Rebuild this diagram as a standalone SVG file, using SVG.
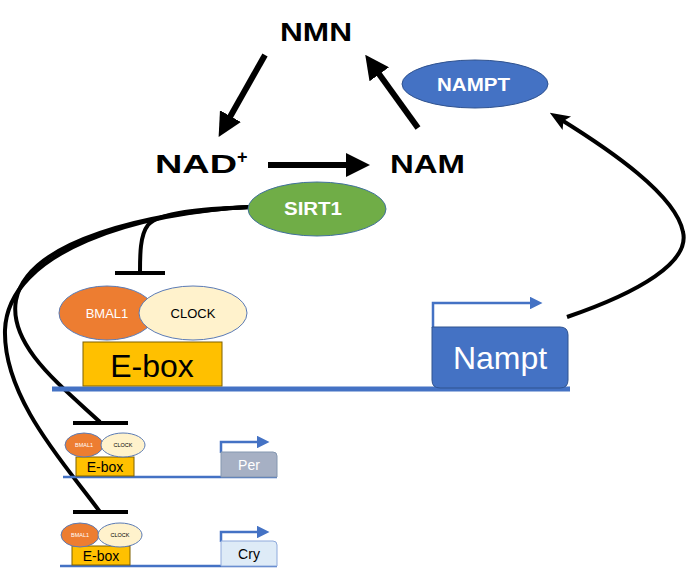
<svg xmlns="http://www.w3.org/2000/svg" width="686" height="572" viewBox="0 0 686 572">
<defs>
<style>
.lbl{font-family:"Liberation Sans",Arial,sans-serif;}
.big{font-size:26px;font-weight:bold;fill:#000;}
.thick{stroke:#000;stroke-width:6;fill:none;}
.curve{stroke:#000;stroke-width:4;fill:none;}
.dna{stroke:#4472C4;fill:none;}
.prom{stroke:#4472C4;stroke-width:2.5;fill:none;}
.bmal{fill:#ED7D31;stroke:#5B7BB5;stroke-width:1;}
.clock{fill:#FFF2CC;stroke:#5B7BB5;stroke-width:1;}
.ebox{fill:#FFC000;stroke:#7F6000;stroke-width:1;}
</style>
<marker id="bigHead" markerWidth="4" markerHeight="4" refX="1.5" refY="2" orient="auto" markerUnits="strokeWidth">
<path d="M0,0 L4,2 L0,4 z" fill="#000"/>
</marker>
<marker id="thinHead" markerWidth="5" markerHeight="5" refX="2" refY="2.5" orient="auto" markerUnits="strokeWidth">
<path d="M0,0.5 L5,2.5 L0,4.5 L1,2.5 z" fill="#000"/>
</marker>
<marker id="promHead" markerWidth="5" markerHeight="5" refX="2" refY="2.5" orient="auto" markerUnits="strokeWidth">
<path d="M0,0 L5,2.5 L0,5 z" fill="#4472C4"/>
</marker>
</defs>
<rect width="686" height="572" fill="#fff"/>

<g id="connectors">
<line class="thick" x1="265" y1="55" x2="226" y2="124" marker-end="url(#bigHead)"/>
<line class="thick" x1="268" y1="165" x2="355" y2="165" marker-end="url(#bigHead)"/>
<line class="thick" x1="418" y1="128" x2="374" y2="67" marker-end="url(#bigHead)"/>
<path class="curve" d="M567,317 C640,292 690,262 683,232 C676,195 610,150 560,119" marker-end="url(#thinHead)"/>
<path class="curve" d="M250,207 C200,209 160,212 148,225 C140,235 140,255 140,272"/>
<line class="curve" x1="115" y1="273" x2="165" y2="273"/>
<path class="curve" d="M250,207 C150,212 28,240 16,300 C8,345 60,385 100,422"/>
<line class="curve" x1="73" y1="423" x2="128" y2="423"/>
<path class="curve" d="M250,207 C140,212 8,250 5,330 C3,400 70,470 100,512"/>
<line class="curve" x1="73" y1="512" x2="128" y2="512"/>
</g>

<g id="NMN"><text class="lbl big" x="280" y="41" textLength="72" lengthAdjust="spacingAndGlyphs">NMN</text></g>
<g id="NAD"><text class="lbl big" x="155" y="173"><tspan textLength="82" lengthAdjust="spacingAndGlyphs">NAD</tspan><tspan font-size="18" dy="-10">+</tspan></text></g>
<g id="NAM"><text class="lbl big" x="390" y="173" textLength="75" lengthAdjust="spacingAndGlyphs">NAM</text></g>

<g id="NAMPT">
<ellipse cx="475" cy="84" rx="73" ry="24" fill="#4472C4" stroke="#2F528F" stroke-width="1"/>
<text class="lbl" x="437" y="91" font-size="19" font-weight="bold" fill="#fff" textLength="73" lengthAdjust="spacingAndGlyphs">NAMPT</text>
</g>

<g id="SIRT1">
<ellipse cx="317" cy="209" rx="69" ry="27" fill="#70AD47" stroke="#41719C" stroke-width="1"/>
<text class="lbl" x="284" y="215" font-size="19" font-weight="bold" fill="#fff" textLength="58" lengthAdjust="spacingAndGlyphs">SIRT1</text>
</g>

<g id="main-gene">
<line class="dna" x1="52" y1="389" x2="570" y2="389" stroke-width="5"/>
<rect class="ebox" x="83" y="342" width="139" height="44"/>
<text class="lbl" x="152" y="377" font-size="32" fill="#000" text-anchor="middle">E-box</text>
<ellipse class="bmal" cx="107" cy="313" rx="48" ry="27"/>
<text class="lbl" x="107" y="318" font-size="13" fill="#fff" text-anchor="middle">BMAL1</text>
<ellipse class="clock" cx="193" cy="313" rx="54" ry="27"/>
<text class="lbl" x="193" y="318" font-size="13" fill="#000" text-anchor="middle">CLOCK</text>
</g>

<g id="Nampt">
<polyline class="prom" points="433,328 433,303 535,303" marker-end="url(#promHead)"/>
<path d="M432,327 H560 Q568,327 568,335 V380 Q568,388 560,388 H440 Q432,388 432,380 Z" fill="#4472C4" stroke="#2F528F" stroke-width="1"/>
<text class="lbl" x="500" y="369" font-size="32" fill="#fff" text-anchor="middle">Nampt</text>
</g>

<g id="per-gene">
<line class="dna" x1="63" y1="477" x2="277" y2="477" stroke-width="2.5"/>
<rect class="ebox" x="76" y="457" width="58" height="19"/>
<text class="lbl" x="105" y="472" font-size="14" fill="#000" text-anchor="middle">E-box</text>
<ellipse class="bmal" cx="84" cy="445" rx="19" ry="12"/>
<text class="lbl" x="84" y="447" font-size="5.5" fill="#fff" text-anchor="middle">BMAL1</text>
<ellipse class="clock" cx="123" cy="445" rx="22" ry="12"/>
<text class="lbl" x="123" y="447" font-size="5.5" fill="#000" text-anchor="middle">CLOCK</text>
</g>

<g id="Per">
<polyline class="prom" points="221,453 221,442 262,442" stroke-width="1.5" marker-end="url(#promHead)"/>
<path d="M221,452 H273 Q277,452 277,456 V477 H221 Z" fill="#A6B0C4" stroke="#8497B0" stroke-width="1"/>
<text class="lbl" x="249" y="470" font-size="14" fill="#fff" text-anchor="middle">Per</text>
</g>

<g id="cry-gene">
<line class="dna" x1="60" y1="566" x2="277" y2="566" stroke-width="2.5"/>
<rect class="ebox" x="72" y="546" width="58" height="19"/>
<text class="lbl" x="101" y="561" font-size="14" fill="#000" text-anchor="middle">E-box</text>
<ellipse class="bmal" cx="80" cy="535" rx="19" ry="12"/>
<text class="lbl" x="80" y="537" font-size="5.5" fill="#fff" text-anchor="middle">BMAL1</text>
<ellipse class="clock" cx="120" cy="535" rx="22" ry="12"/>
<text class="lbl" x="120" y="537" font-size="5.5" fill="#000" text-anchor="middle">CLOCK</text>
</g>

<g id="Cry">
<polyline class="prom" points="221,542 221,532 262,532" stroke-width="1.5" marker-end="url(#promHead)"/>
<path d="M221,541 H273 Q277,541 277,545 V566 H221 Z" fill="#DEEBF7" stroke="#8FAADC" stroke-width="1"/>
<text class="lbl" x="249" y="559" font-size="14" fill="#000" text-anchor="middle">Cry</text>
</g>
</svg>
